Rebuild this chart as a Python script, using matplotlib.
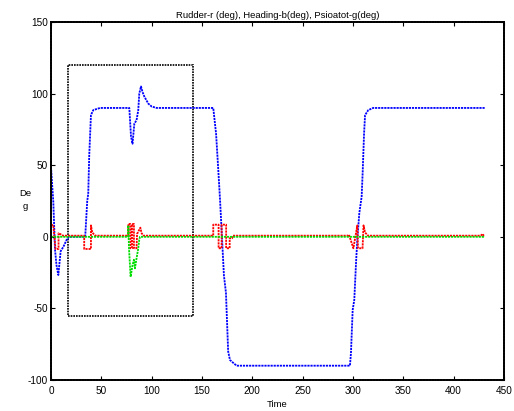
import numpy as np
import matplotlib.pyplot as plt
from matplotlib.patches import Rectangle

plt.rcParams['font.family'] = ['Liberation Sans', 'DejaVu Sans']
plt.rcParams['axes.unicode_minus'] = False

# Heading (blue)
t_head = [0, 1.3, 2.3, 4, 5.5, 7.3, 9.6, 12.3, 15.6, 18, 25, 34, 36, 37, 38, 39.7, 42,
          48.7, 77.8, 79.5, 81, 82.8, 85, 86.7, 87.7, 89.4, 91, 92.7, 96.7, 100, 105,
          161.2, 164, 166, 168, 171.8, 173.8, 176, 177.8, 181, 184.4, 297, 298, 299.7,
          301.3, 303, 304.3, 306.3, 308.6, 309.6, 311, 312, 315.2, 320, 431]
heading = [49, 35, 24.5, -9, -20, -26.7, -10, -7, -2, 0, 0, 0, 25, 30, 57, 85, 88.5,
           90, 90, 70, 65, 79, 81.5, 88.5, 100, 105, 101, 98, 93, 91, 90,
           90, 72, 49, 25, -27, -39, -80, -86, -88, -90, -90, -81, -51,
           -44, -18.5, -2, 16.6, 28, 44.5, 72, 85, 88.5, 90, 90]

# Rudder (red)
t_rud = [0, 2.3, 4.5, 4.5, 7.5, 7.5, 9, 12, 33, 33, 39.7, 39.7, 41, 44,
         76.8, 76.8, 78.8, 78.8, 80.5, 80.5, 82.4, 82.4, 85, 85.5, 88.8, 90, 92,
         161.2, 161.2, 166.5, 166.5, 169.5, 169.5, 174, 174, 177.5, 177.5, 180, 180.5,
         293.7, 295, 296, 300.4, 300.4, 304.3, 304.3, 305, 309.5, 309.5, 310.5, 312, 315,
         427, 428.5, 430, 431]
rudder = [8.2, 8.2, -8.5, -8.5, -8.5, 2.5, 2, 0.8, 0.8, -8.5, -8.5, 8, 3, 0.8,
          0.8, 9, 9, -8, -8, 9, 9, -8, -8, 2, 6.4, 2.5, 0.8,
          0.8, 8.5, 8.5, -8, -8, 8.5, 8.5, -8, -8, -1, -1, 0.8, 0.8,
          0.8, 1.5, -8, -8, 8, 8, -8, -8, -8, 8, 3, 0.8,
          0.8, 2, 0.8, 0.8]

# Psioatot (green)
t_psi = [0, 76.8, 76.8, 77.5, 79.1, 81, 82.4, 83.4, 85, 86.7, 87.7, 88.4, 431]
psi = [0, 0, 8, -8, -28, -19.7, -16, -22, -15, -8, -2, 0, 0]

box_t = (17, 141)
box_y = (-55, 120)

fig = plt.figure(figsize=(5.14, 4.11), dpi=100)
ax = fig.add_axes([0.0992, 0.0754, 0.8813, 0.871])

dots = (0, (1.2, 0.5))
ax.plot(t_head, heading, color='#0000ff', lw=1.3, linestyle=dots)
ax.plot(t_rud, rudder, color='#ff0000', lw=1.3, linestyle=dots)
ax.plot(t_psi, psi, color='#00dd00', lw=1.3, linestyle=dots)

ax.add_patch(Rectangle((box_t[0], box_y[0]), box_t[1] - box_t[0], box_y[1] - box_y[0],
                       fill=False, edgecolor='black', lw=1.2, linestyle=(0, (1, 0.6))))

ax.set_xlim(0, 450)
ax.set_ylim(-100, 150)
ax.set_xticks(np.arange(0, 451, 50))
ax.set_yticks(np.arange(-100, 151, 50))
ax.tick_params(direction='in', top=True, right=True, length=3, width=0.8,
               labelsize=7.2, pad=2)
ax.tick_params(axis='x', pad=4)
for s in ax.spines.values():
    s.set_linestyle((0, (1, 0.5)))
    s.set_linewidth(1.4)

ax.set_title('Rudder-r (deg), Heading-b(deg), Psioatot-g(deg)', fontsize=6.8, pad=3)
ax.set_xlabel('Time', fontsize=6.8, labelpad=3)
fig.text(25 / 514, 1 - 200 / 411, 'De\ng', fontsize=6.8, ha='center', va='center',
         linespacing=1.6)

fig.savefig('out.png', dpi=100)
